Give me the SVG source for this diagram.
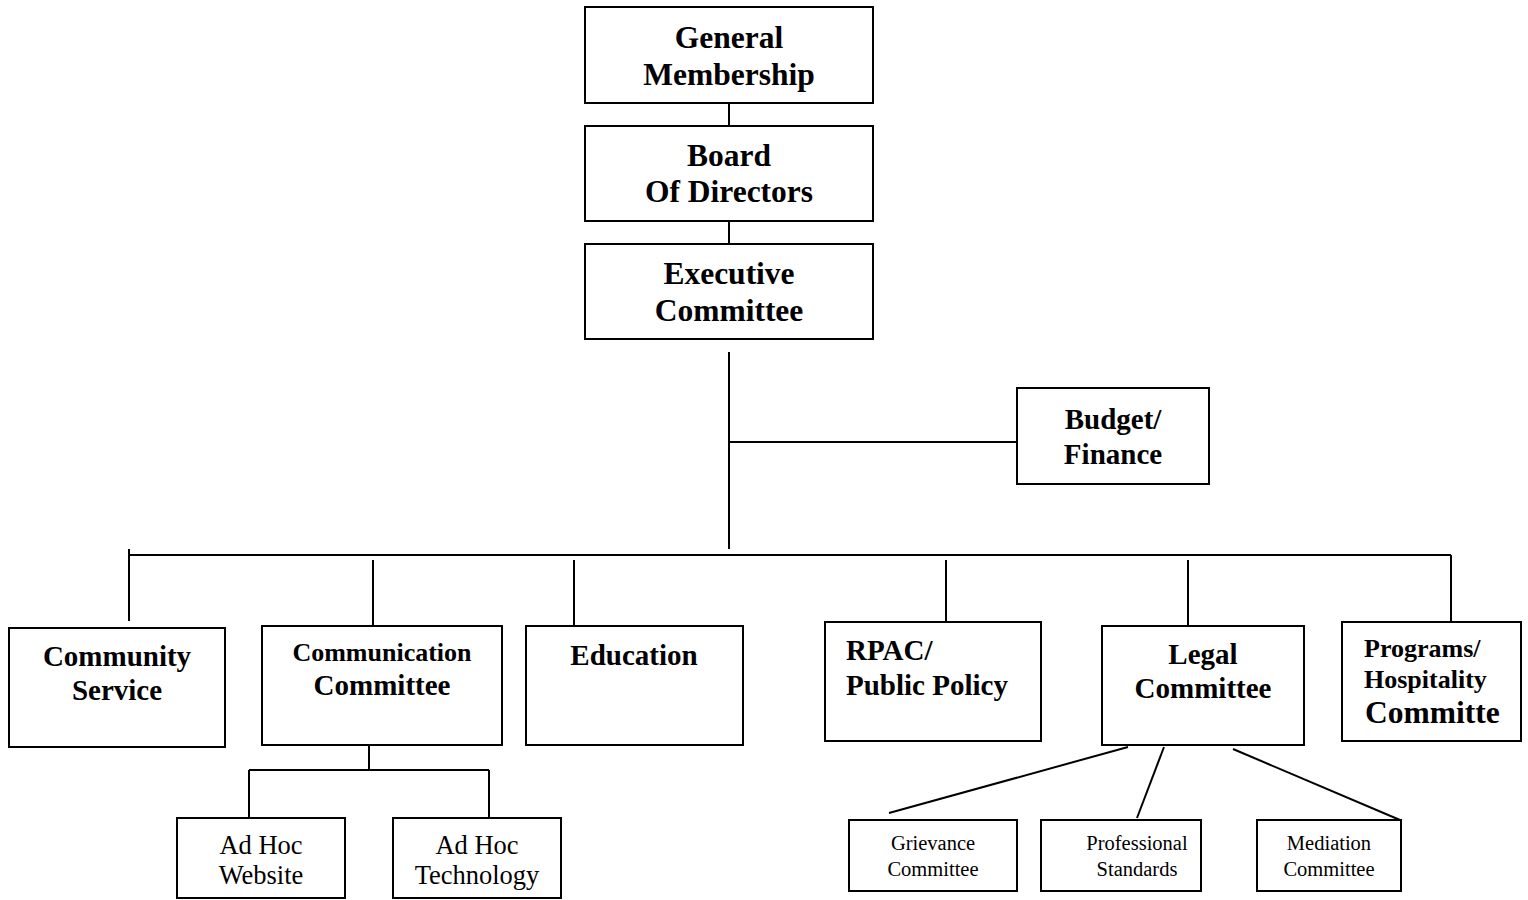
<svg xmlns="http://www.w3.org/2000/svg" width="1528" height="900" viewBox="0 0 1528 900">
<style>
rect{fill:#fff;stroke:#000;stroke-width:2}
line{stroke:#000;stroke-width:2}
text{font-family:"Liberation Serif","Times New Roman",serif;text-anchor:middle;fill:#000}
.b31{font-size:31.5px;font-weight:bold}
.b29{font-size:29px;font-weight:bold}
.b26{font-size:26px;font-weight:bold}
.r25{font-size:26.5px}
.r19{font-size:20.5px}
</style>
<rect x="0" y="0" width="1528" height="900" style="stroke:none"/>
<g id="connectors">
<line x1="729" y1="103" x2="729" y2="126"/>
<line x1="729" y1="221" x2="729" y2="244"/>
<line x1="729" y1="352" x2="729" y2="549"/>
<line x1="729" y1="442" x2="1017" y2="442"/>
<line x1="129" y1="555" x2="1451" y2="555"/>
<line x1="129" y1="549" x2="129" y2="621"/>
<line x1="373" y1="560" x2="373" y2="626"/>
<line x1="574" y1="560" x2="574" y2="632"/>
<line x1="946" y1="560" x2="946" y2="622"/>
<line x1="1188" y1="560" x2="1188" y2="626"/>
<line x1="1451" y1="555" x2="1451" y2="622"/>
<line x1="369" y1="745" x2="369" y2="770"/>
<line x1="249" y1="770" x2="489" y2="770"/>
<line x1="249" y1="770" x2="249" y2="818"/>
<line x1="489" y1="770" x2="489" y2="818"/>
<line x1="1128" y1="747" x2="889" y2="813"/>
<line x1="1164" y1="747" x2="1137" y2="818"/>
<line x1="1233" y1="749" x2="1400" y2="820"/>
</g>
<g id="general-membership"><rect x="585" y="7" width="288" height="96"/><text class="b31" x="729" y="48">General</text><text class="b31" x="729" y="85">Membership</text></g>
<g id="board"><rect x="585" y="126" width="288" height="95"/><text class="b31" x="729" y="166">Board</text><text class="b31" x="729" y="202">Of Directors</text></g>
<g id="executive"><rect x="585" y="244" width="288" height="95"/><text class="b31" x="729" y="284">Executive</text><text class="b31" x="729" y="321">Committee</text></g>
<g id="budget"><rect x="1017" y="388" width="192" height="96"/><text class="b29" x="1113" y="429">Budget/</text><text class="b29" x="1113" y="464">Finance</text></g>
<g id="community"><rect x="9" y="628" width="216" height="119"/><text class="b29" x="117" y="666">Community</text><text class="b29" x="117" y="700">Service</text></g>
<g id="communication"><rect x="262" y="626" width="240" height="119"/><text class="b26" x="382" y="661">Communication</text><text class="b29" x="382" y="695">Committee</text></g>
<g id="education"><rect x="526" y="626" width="217" height="119"/><text class="b29" x="634" y="665">Education</text></g>
<g id="rpac"><rect x="825" y="622" width="216" height="119"/><text class="b29" x="846" y="660" style="text-anchor:start">RPAC/</text><text class="b29" x="846" y="695" style="text-anchor:start">Public Policy</text></g>
<g id="legal"><rect x="1102" y="626" width="202" height="119"/><text class="b29" x="1203" y="664">Legal</text><text class="b29" x="1203" y="698">Committee</text></g>
<g id="programs"><rect x="1342" y="622" width="179" height="119"/><text class="b26" x="1364" y="657" style="text-anchor:start">Programs/</text><text class="b26" x="1364" y="688" style="text-anchor:start">Hospitality</text><text class="b31" x="1365" y="723" style="text-anchor:start">Committe</text></g>
<g id="adhoc-website"><rect x="177" y="818" width="168" height="80"/><text class="r25" x="261" y="854">Ad Hoc</text><text class="r25" x="261" y="884">Website</text></g>
<g id="adhoc-technology"><rect x="393" y="818" width="168" height="80"/><text class="r25" x="477" y="854">Ad Hoc</text><text class="r25" x="477" y="884">Technology</text></g>
<g id="grievance"><rect x="849" y="820" width="168" height="71"/><text class="r19" x="933" y="850">Grievance</text><text class="r19" x="933" y="876">Committee</text></g>
<g id="professional"><rect x="1041" y="820" width="160" height="71"/><text class="r19" x="1137" y="850">Professional</text><text class="r19" x="1137" y="876">Standards</text></g>
<g id="mediation"><rect x="1257" y="820" width="144" height="71"/><text class="r19" x="1329" y="850">Mediation</text><text class="r19" x="1329" y="876">Committee</text></g>
</svg>
